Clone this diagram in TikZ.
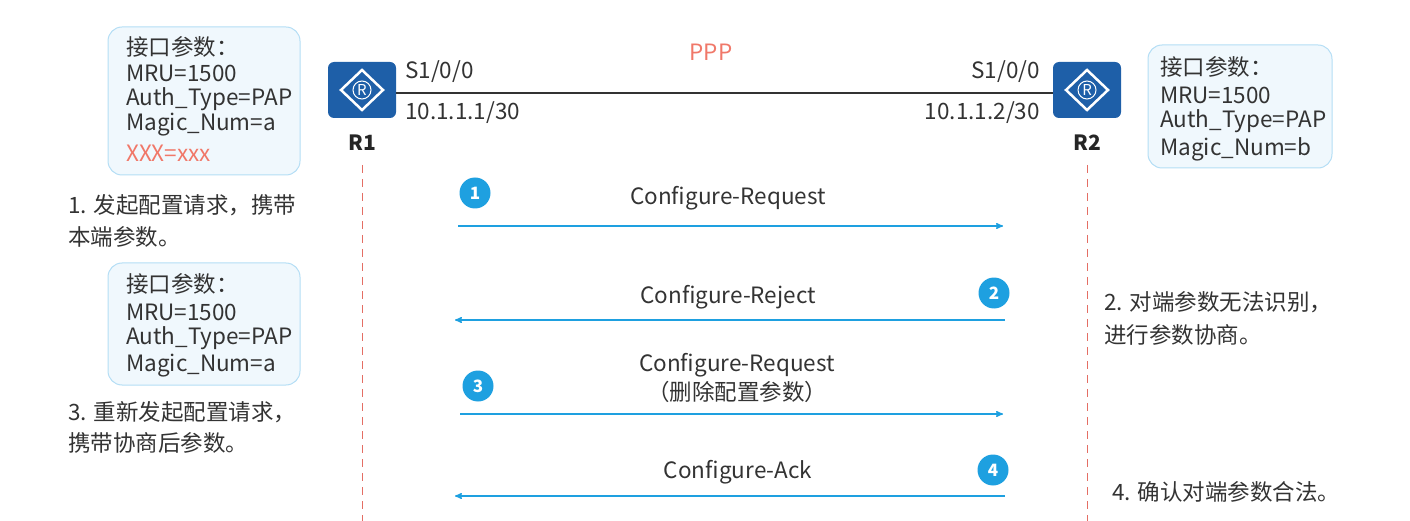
\documentclass[tikz,border=0pt]{standalone}
\usepackage{fontspec}
\setmainfont{Noto Sans CJK SC}
\usetikzlibrary{arrows}
\definecolor{box_fill}{RGB}{240,248,253}
\definecolor{box_edge}{RGB}{180,222,245}
\definecolor{router_blue}{RGB}{30,95,168}
\definecolor{msg_blue}{RGB}{30,160,224}
\definecolor{ppp_red}{RGB}{240,120,105}
\definecolor{line_red}{RGB}{228,110,100}
\begin{document}
\begin{tikzpicture}[x=1pt,y=-1pt,>=stealth',font=\fontsize{22.5}{26}\selectfont]
    \tikzstyle{param}=[draw=box_edge,fill=box_fill,rounded corners=14pt,line width=1pt]
    \tikzstyle{router}=[fill=router_blue,rounded corners=6pt]
    \tikzstyle{txt}=[anchor=west,inner sep=0pt,text=black!80]
    \tikzstyle{num}=[circle,fill=msg_blue,text=white,minimum size=31pt,inner sep=0pt,font=\fontsize{17}{18}\selectfont\bfseries]
    \tikzstyle{msg}=[->,draw=msg_blue,line width=1.4pt]
    \tikzstyle{life}=[draw=line_red,line width=1pt,dash pattern=on 8pt off 6pt]

    \useasboundingbox (0,0) rectangle (1410,521);

    % parameter boxes
    \draw[param] (108,27) rectangle (300,175);
    \node[txt] (a1) at (126,47)  {接口参数：};
    \node[txt] (a2) at (126,73)  {MRU=1500};
    \node[txt] (a3) at (126,99)  {Auth\_Type=PAP};
    \node[txt] (a4) at (126,125) {Magic\_Num=a};
    \node[txt,text=ppp_red] (a5) at (126,153) {XXX=xxx};

    \draw[param] (1148,45) rectangle (1332,168);
    \node[txt] (b1) at (1160,67)  {接口参数：};
    \node[txt] (b2) at (1160,95)  {MRU=1500};
    \node[txt] (b3) at (1160,121) {Auth\_Type=PAP};
    \node[txt] (b4) at (1160,149) {Magic\_Num=b};

    \draw[param] (108,263) rectangle (300,385);
    \node[txt] (c1) at (126,284) {接口参数：};
    \node[txt] (c2) at (126,312) {MRU=1500};
    \node[txt] (c3) at (126,338) {Auth\_Type=PAP};
    \node[txt] (c4) at (126,366) {Magic\_Num=a};

    % routers
    \foreach \n/\x in {R1/362,R2/1087}{
      \fill[router] (\x-34,62) rectangle (\x+34,118);
      \draw[white,line width=2.5pt] (\x,70) -- (\x+21,90) -- (\x,110) -- (\x-21,90) -- cycle;
      \draw[white,line width=1pt] (\x,90) circle (9pt);
      \node[text=white,font=\fontsize{15}{15}\selectfont,inner sep=0pt] at (\x,90) {R};
      \node[font=\fontsize{21}{22}\selectfont\bfseries,text=black!85] (\n) at (\x,143) {\n};
      \coordinate (\n-top) at (\x,165);
      \coordinate (\n-bot) at (\x,521);
    }
    \coordinate (L) at (396,93);
    \coordinate (Rr) at (1053,93);
    \draw[line width=1.5pt,black!80] (L) -- (Rr);
    \node[text=ppp_red] (ppp) at (711,52) {PPP};
    \node[txt] (s1) at (405,72) {S1/0/0};
    \node[txt] (ip1) at (405,113) {10.1.1.1/30};
    \node[txt,anchor=east] (s2) at (1040,72) {S1/0/0};
    \node[txt,anchor=east] (ip2) at (1040,113) {10.1.1.2/30};

    \draw[life] (R1-top) -- (R1-bot);
    \draw[life] (R2-top) -- (R2-bot);

    % messages
    \coordinate (m1s) at (458,226);  \coordinate (m1e) at (1003,226);
    \coordinate (m2s) at (1005,320); \coordinate (m2e) at (455,320);
    \coordinate (m3s) at (460,414);  \coordinate (m3e) at (1003,414);
    \coordinate (m4s) at (1005,496); \coordinate (m4e) at (455,496);
    \draw[msg] (m1s) -- (m1e);
    \draw[msg] (m2s) -- (m2e);
    \draw[msg] (m3s) -- (m3e);
    \draw[msg] (m4s) -- (m4e);
    \node[text=black!80] (l1) at (728,198) {Configure-Request};
    \node[text=black!80] (l2) at (728,297) {Configure-Reject};
    \node[text=black!80] (l3) at (737,365) {Configure-Request};
    \node[text=black!80] (l3b) at (737,392) {（删除配置参数）};
    \node[text=black!80] (l4) at (738,472) {Configure-Ack};
    \node[num] (n1) at (475,193) {1};
    \node[num] (n2) at (994,293) {2};
    \node[num] (n3) at (478,386) {3};
    \node[num] (n4) at (993,470) {4};

    % steps
    \node[txt] (t1a) at (68,205) {1. 发起配置请求，携带};
    \node[txt] (t1b) at (68,237) {本端参数。};
    \node[txt] (t2a) at (1104,302) {2. 对端参数无法识别，};
    \node[txt] (t2b) at (1104,335) {进行参数协商。};
    \node[txt] (t3a) at (68,412) {3. 重新发起配置请求，};
    \node[txt] (t3b) at (68,443) {携带协商后参数。};
    \node[txt] (t4) at (1112,492) {4. 确认对端参数合法。};
\end{tikzpicture}
\end{document}
